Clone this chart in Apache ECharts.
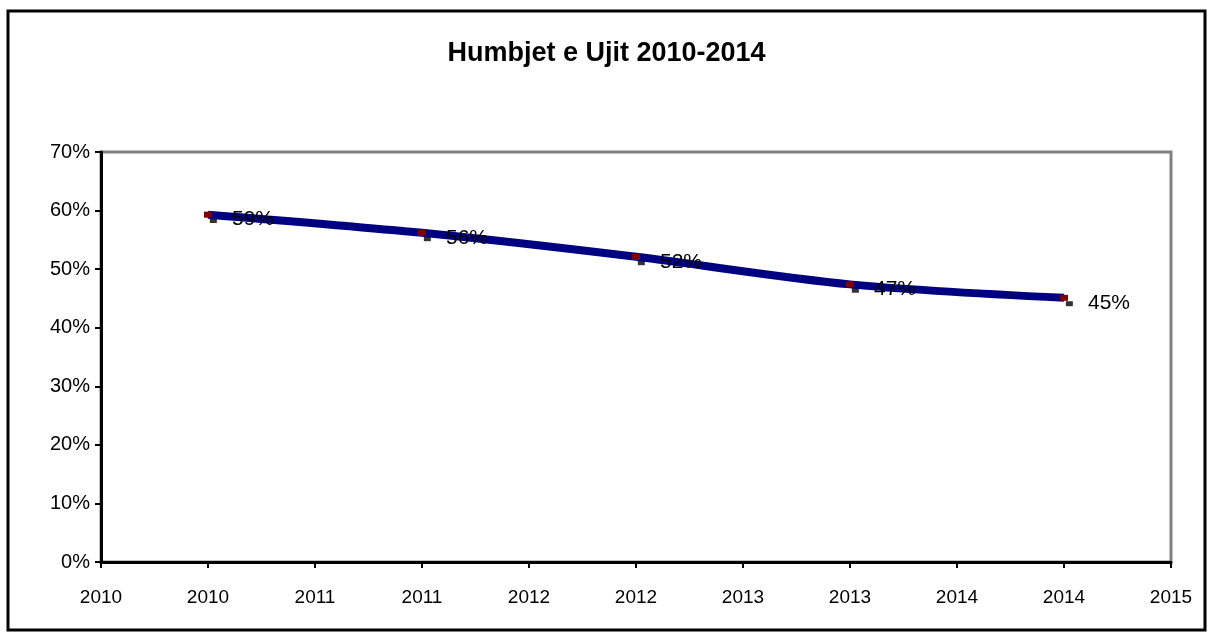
<!DOCTYPE html>
<html>
<head>
<meta charset="utf-8">
<script src="https://cdn.jsdelivr.net/npm/echarts@6/dist/echarts.min.js"></script>
<style>
  html, body { margin: 0; padding: 0; background: #fff; }
  #chart { width: 1213px; height: 637px; }
</style>
</head>
<body>
<div id="chart"></div>
<script>
// vite / te dhenat
var years = [2010, 2011, 2012, 2013, 2014];
var humbjet = [59.3, 56.2, 52.1, 47.4, 45.1];      // seria me pika te kuqe + vija blu
var yearsB = [2010.025, 2011.025, 2012.025, 2013.025, 2014.025];
var humbjetB = [58.3, 55.2, 51.1, 46.4, 44.1];     // pikat e zeza
var xTickLabels = ['2010', '2010', '2011', '2011', '2012', '2012', '2013', '2013', '2014', '2014', '2015'];
var yTicks = [0, 10, 20, 30, 40, 50, 60, 70];

var font = '"Liberation Sans", Arial, sans-serif';

var myChart = echarts.init(document.getElementById('chart'));

var option = {
    backgroundColor: '#fff',
    animation: false,
    title: {
        text: 'Humbjet e Ujit 2010-2014',
        left: 'center',
        top: 35,
        textStyle: { fontFamily: font, fontSize: 27, fontWeight: 'bold', color: '#000' }
    },
    graphic: [{
        type: 'rect',
        shape: { x: 8, y: 11, width: 1197, height: 619 },
        style: { fill: 'none', stroke: '#000', lineWidth: 3 },
        silent: true
    }],
    grid: {
        left: 101, right: 42, top: 152, bottom: 75,
        show: true, borderColor: '#808080', borderWidth: 3
    },
    xAxis: {
        type: 'value',
        min: 2009.5, max: 2014.5, interval: 0.5,
        splitLine: { show: false },
        axisLine: { lineStyle: { color: '#000', width: 3 } },
        axisTick: { length: 6, lineStyle: { color: '#000', width: 2 } },
        axisLabel: {
            color: '#000', fontFamily: font, fontSize: 19, margin: 26,
            formatter: function (v) {
                return xTickLabels[Math.round((v - 2009.5) / 0.5)];
            }
        }
    },
    yAxis: {
        type: 'value',
        min: yTicks[0], max: yTicks[yTicks.length - 1], interval: 10,
        splitLine: { show: false },
        axisLine: { show: true, lineStyle: { color: '#000', width: 3 } },
        axisTick: { show: true, length: 6, lineStyle: { color: '#000', width: 2 } },
        axisLabel: { color: '#000', fontFamily: font, fontSize: 20, margin: 11, formatter: '{value}%' }
    },
    series: [
        {
            name: 'pika',
            type: 'scatter',
            z: 1,
            symbol: 'rect',
            symbolSize: [7, 5],
            itemStyle: { color: '#000' },
            data: yearsB.map(function (x, i) { return [x, humbjetB[i]]; })
        },
        {
            name: 'humbjet',
            type: 'line',
            z: 2,
            smooth: 0.3,
            symbol: 'rect',
            symbolSize: [8, 6],
            showAllSymbol: true,
            lineStyle: { color: '#000080', width: 8 },
            itemStyle: { color: '#800000' },
            label: {
                show: true,
                position: 'right',
                distance: 20,
                offset: [0, 5],
                color: '#000',
                fontFamily: font,
                fontSize: 21,
                formatter: function (p) { return Math.round(p.value[1]) + '%'; }
            },
            data: years.map(function (x, i) { return [x, humbjet[i]]; })
        }
    ]
};

myChart.setOption(option);
</script>
</body>
</html>
